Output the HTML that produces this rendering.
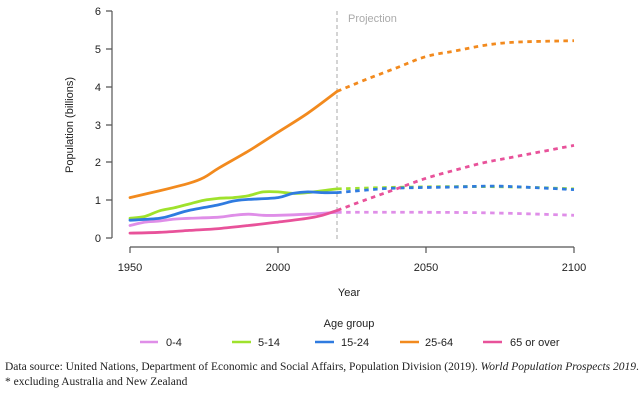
<!DOCTYPE html>
<html><head><meta charset="utf-8"><style>
body{margin:0;background:#fff;width:640px;height:400px;overflow:hidden}
svg text{font-family:"Liberation Sans",sans-serif;fill:#222}
.fn{position:absolute;left:5px;font-family:"Liberation Serif",serif;font-size:11.5px;color:#222;white-space:nowrap}
</style></head><body>
<svg id="s" width="640" height="400" style="position:absolute;left:0;top:0">
<g stroke="#555" stroke-width="1.2" fill="none">
<path d="M112,11V238"/>
<path d="M106,11H112M106,49H112M106,87H112M106,125H112M106,162H112M106,200H112M106,238H112"/>
<path d="M130,247H574M130,247v6M278,247v6M426,247v6M574,247v6"/>
</g>
<g font-size="11" text-anchor="end">
<text x="101" y="15">6</text><text x="101" y="53">5</text><text x="101" y="91">4</text><text x="101" y="129">3</text><text x="101" y="166">2</text><text x="101" y="204">1</text><text x="101" y="242">0</text>
</g>
<g font-size="11" text-anchor="middle">
<text x="130" y="271">1950</text><text x="278" y="271">2000</text><text x="426" y="271">2050</text><text x="574" y="271">2100</text>
<text x="349" y="296">Year</text>
<text x="349" y="327">Age group</text>
</g>
<text font-size="11" transform="translate(73,125) rotate(-90)" text-anchor="middle">Population (billions)</text>
<path d="M337,11V240" stroke="#aaa" stroke-dasharray="4,3" stroke-width="1"/>
<text x="348" y="22" font-size="11" style="fill:#aaa">Projection</text>
<g id="ser" fill="none" stroke-width="2.8"></g>
<g stroke-width="2.6">
<path d="M140,342H158" stroke="#df8ee8"/><path d="M232,342H251" stroke="#9fe22c"/><path d="M315,342H334" stroke="#2f7be0"/><path d="M400,342H419" stroke="#f28a1e"/><path d="M483,342H502" stroke="#e8529a"/>
</g>
<g font-size="11"><text x="166" y="346">0-4</text><text x="258" y="346">5-14</text><text x="341" y="346">15-24</text><text x="425" y="346">25-64</text><text x="510" y="346">65 or over</text></g>
</svg>
<div class="fn" style="top:361px">Data source: United Nations, Department of Economic and Social Affairs, Population Division (2019). <i>World Population Prospects 2019</i>.</div>
<div class="fn" style="top:376px">* excluding Australia and New Zealand</div>
<script>
var X=function(y){return 130+(y-1950)*2.96},Y=function(v){return 238-v*37.8};
var S=[
["#df8ee8",[[1950,.33],[1955,.42],[1960,.45],[1965,.5],[1970,.52],[1980,.55],[1985,.6],[1990,.63],[1995,.6],[2000,.6],[2010,.63],[2020,.68]],[[2020,.68],[2050,.68],[2075,.66],[2100,.6]]],
["#9fe22c",[[1950,.52],[1955,.57],[1960,.72],[1965,.8],[1970,.9],[1975,1],[1980,1.05],[1985,1.07],[1990,1.12],[1995,1.22],[2000,1.22],[2005,1.18],[2010,1.2],[2015,1.25],[2020,1.3]],[[2020,1.3],[2040,1.34],[2060,1.36],[2080,1.35],[2100,1.3]]],
["#2f7be0",[[1950,.47],[1960,.52],[1965,.62],[1970,.73],[1980,.88],[1985,.98],[1990,1.02],[2000,1.07],[2005,1.18],[2010,1.22],[2015,1.2],[2020,1.2]],[[2020,1.2],[2030,1.27],[2040,1.32],[2060,1.35],[2075,1.37],[2100,1.28]]],
["#f28a1e",[[1950,1.07],[1960,1.25],[1970,1.45],[1975,1.6],[1980,1.85],[1990,2.3],[2000,2.8],[2010,3.3],[2020,3.88]],[[2020,3.88],[2030,4.2],[2040,4.5],[2050,4.8],[2060,4.95],[2070,5.1],[2080,5.18],[2100,5.22]]],
["#e8529a",[[1950,.13],[1960,.15],[1970,.2],[1980,.25],[1990,.33],[2000,.42],[2010,.52],[2015,.6],[2020,.73]],[[2020,.73],[2030,1.02],[2040,1.3],[2050,1.58],[2060,1.8],[2070,2.0],[2080,2.15],[2100,2.45]]]];
var g=document.getElementById('ser'),h='';
function p(a){
 var P=a.map(function(q){return [X(q[0]),Y(q[1])]});
 var d='M'+P[0][0].toFixed(1)+','+P[0][1].toFixed(1);
 for(var i=0;i<P.length-1;i++){
  var p0=P[i-1]||P[i],p1=P[i],p2=P[i+1],p3=P[i+2]||p2;
  var c1=[p1[0]+(p2[0]-p0[0])/6,p1[1]+(p2[1]-p0[1])/6],c2=[p2[0]-(p3[0]-p1[0])/6,p2[1]-(p3[1]-p1[1])/6];
  d+='C'+c1[0].toFixed(1)+','+c1[1].toFixed(1)+' '+c2[0].toFixed(1)+','+c2[1].toFixed(1)+' '+p2[0].toFixed(1)+','+p2[1].toFixed(1);
 }
 return d;
}
S.forEach(function(s){
 h+='<path d="'+p(s[1])+'" stroke="'+s[0]+'" stroke-linecap="round"/>';
 h+='<path d="'+p(s[2])+'" stroke="'+s[0]+'" stroke-dasharray="4.5,4.5"/>';
});
g.innerHTML=h;
</script>
</body></html>
